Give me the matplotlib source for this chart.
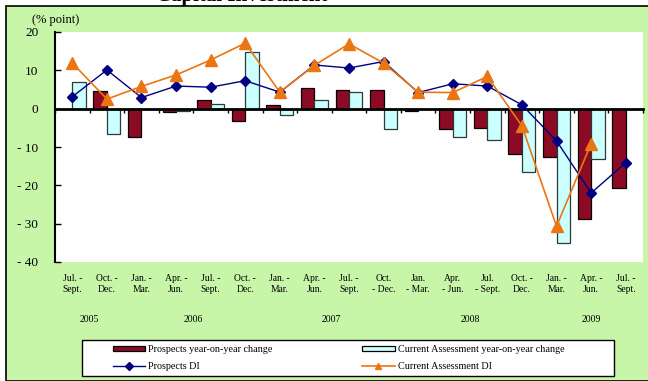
import numpy as np
import matplotlib.pyplot as plt
from matplotlib.patches import Rectangle
from matplotlib.lines import Line2D

plt.rcParams['font.family'] = ['Liberation Serif', 'DejaVu Serif']

quarters = ['Jul. -\nSept.', 'Oct. -\nDec.',
            'Jan. -\nMar.', 'Apr. -\nJun.', 'Jul. -\nSept.', 'Oct. -\nDec.',
            'Jan. -\nMar.', 'Apr. -\nJun.', 'Jul. -\nSept.', 'Oct.\n- Dec.',
            'Jan.\n- Mar.', 'Apr.\n- Jun.', 'Jul.\n- Sept.', 'Oct. -\nDec.',
            'Jan. -\nMar.', 'Apr. -\nJun.', 'Jul. -\nSept.']
years = ['2005', '2006', '2007', '2008', '2009']
year_counts = [2, 4, 4, 4, 3]

prospects_yoy = [np.nan, 4.6, -7.3, -0.9, 2.3, -3.2, 0.9, 5.3, 4.9, 4.9,
                 -0.5, -5.2, -5.0, -11.7, -12.7, -28.7, -20.6]
current_yoy = [6.9, -6.6, np.nan, -0.5, 1.1, 14.8, -1.6, 2.3, 4.3, -5.2,
               np.nan, -7.3, -8.2, -16.6, -35.1, -13.0, np.nan]
prospects_di = [3.1, 10.1, 2.9, 5.9, 5.6, 7.3, 4.3, 11.4, 10.6, 12.3,
                4.2, 6.5, 5.9, 1.0, -8.4, -22.0, -14.1]
current_di = [11.9, 2.5, 5.8, 8.8, 12.7, 17.1, 4.3, 11.3, 16.9, 11.9,
              4.3, 4.2, 8.4, -4.5, -30.7, -9.1, np.nan]

W, H = 648, 381
green = '#c8f6a9'
fig = plt.figure(figsize=(W / 100, H / 100), dpi=100)
fig.patch.set_facecolor('white')


def fy(py):
    return 1 - py / H


# green panel with its top/left border
fig.patches.append(Rectangle((6 / W, 0), 1, fy(6), transform=fig.transFigure,
                             facecolor=green, edgecolor='black', lw=1.2, zorder=-5))
# title sits above the panel, clipped by the page edge
fig.text(242 / W, fy(0.5), 'Capital Investment', ha='center', va='baseline',
         fontsize=15, fontweight='bold')

ax_l, ax_r, ax_t, ax_b = 55, 643, 32, 262
ax = fig.add_axes([ax_l / W, fy(ax_b), (ax_r - ax_l) / W, (ax_b - ax_t) / H])
ax.set_facecolor('white')

x = np.arange(len(quarters))
bw = 0.39
ax.bar(x - bw / 2, prospects_yoy, bw, color='#8c0a24', edgecolor='black', lw=0.9, zorder=2)
ax.bar(x + bw / 2, current_yoy, bw, color='#ccffff', edgecolor='#2b3b3b', lw=0.9, zorder=2)
ax.plot(x, prospects_di, color='#000080', lw=1.0, marker='D', ms=5.5, zorder=4)
ax.plot(x, current_di, color='#ec7513', lw=1.2, marker='^', ms=8, zorder=5)

ax.set_xlim(-0.5, len(quarters) - 0.5)
ax.set_ylim(-40, 20)
ax.set_yticks(range(-40, 21, 10))
ax.set_yticklabels([str(v) if v >= 0 else '- %d' % -v for v in range(-40, 21, 10)],
                   fontsize=9.5)
ax.tick_params(axis='y', direction='in', length=4, width=1, pad=12)
ax.set_xticks(np.arange(-0.5, len(quarters), 1.0))
ax.set_xticklabels([])
ax.tick_params(axis='x', direction='out', length=3, width=1)
ax.spines['bottom'].set_position(('data', 0))
ax.spines['bottom'].set_linewidth(2)
ax.spines['left'].set_linewidth(1.5)
ax.spines['top'].set_visible(False)
ax.spines['right'].set_visible(False)
fig.text(32 / W, fy(20), '(% point)', ha='left', va='center', fontsize=9)


# category table under the plot
def fx(i):
    return (ax_l + (ax_r - ax_l) * (i + 0.5) / len(quarters)) / W


for i, q in enumerate(quarters):
    fig.text(fx(i), fy(284), q, ha='center', va='center', fontsize=6.9,
             linespacing=1.25)

bounds = np.cumsum([0] + year_counts)
for k, yr in enumerate(years):
    mid = (bounds[k] + bounds[k + 1] - 1) / 2
    fig.text(fx(mid), fy(320), yr, ha='center', va='center', fontsize=7)

for b in range(len(quarters) + 1):
    xb = fx(b - 0.5)
    if b in bounds:
        y0 = 262 if b in (0, len(quarters)) else 265
        fig.lines.append(Line2D([xb, xb], [fy(y0), fy(335)], color='black', lw=1.5))
    else:
        fig.lines.append(Line2D([xb, xb], [fy(265), fy(305)], color='black', lw=1.5))

# legend box
fig.patches.append(Rectangle((82 / W, fy(376)), 532 / W, 36 / H, transform=fig.transFigure,
                             facecolor='white', edgecolor='black', lw=1, zorder=3))
handles = [
    Rectangle((0, 0), 1, 1, facecolor='#8c0a24', edgecolor='black', lw=0.9),
    Line2D([], [], color='#000080', lw=1.0, marker='D', ms=4),
    Rectangle((0, 0), 1, 1, facecolor='#ccffff', edgecolor='black', lw=0.9),
    Line2D([], [], color='#ec7513', lw=1.2, marker='^', ms=5),
]
labels = ['Prospects year-on-year change', 'Prospects DI',
          'Current Assessment year-on-year change', 'Current Assessment DI']
leg = fig.legend(handles, labels, ncol=2, loc='upper left',
                 bbox_to_anchor=(113 / W, fy(345)), fontsize=7.3, frameon=False,
                 handlelength=3.2, handleheight=0.5, handletextpad=0.3,
                 borderaxespad=0, borderpad=0, labelspacing=0.8,
                 columnspacing=8.8)
leg.set_zorder(4)

fig.savefig('out.png', dpi=100)
